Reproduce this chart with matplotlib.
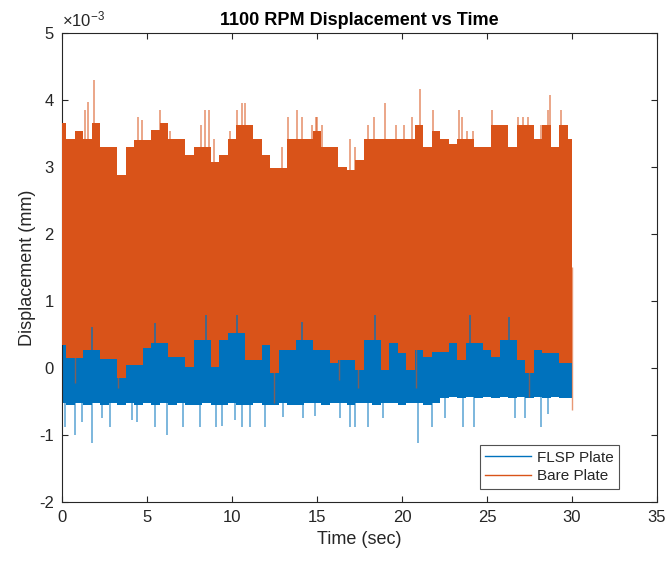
import numpy as np
import matplotlib
matplotlib.use("Agg")
import matplotlib.pyplot as plt
from matplotlib.lines import Line2D

plt.rcParams['font.family'] = ['Liberation Sans', 'DejaVu Sans']
plt.rcParams['mathtext.fontset'] = 'custom'
plt.rcParams['mathtext.rm'] = 'Liberation Sans'
plt.rcParams['mathtext.default'] = 'regular'

# ---- data (displacement in units of 1e-3 mm) ----
t_grid = np.linspace(0, 30, 61)

bare_hi = [3.65, 3.42, 3.53, 3.42, 3.65, 3.30, 3.30, 2.88, 3.30, 3.40,
           3.40, 3.55, 3.65, 3.42, 3.42, 3.18, 3.30, 3.30, 3.08, 3.18,
           3.42, 3.63, 3.63, 3.42, 3.18, 2.98, 2.98, 3.42, 3.42, 3.42,
           3.53, 3.30, 3.30, 3.00, 2.95, 3.10, 3.42, 3.42, 3.42, 3.42,
           3.42, 3.42, 3.63, 3.30, 3.53, 3.42, 3.35, 3.42, 3.42, 3.30,
           3.30, 3.63, 3.63, 3.30, 3.63, 3.63, 3.42, 3.63, 3.30, 3.63, 3.42]
bare_lo = [0.34, 0.15, 0.15, 0.27, 0.27, 0.14, 0.14, -0.15, 0.04, 0.04,
           0.30, 0.37, 0.37, 0.17, 0.17, 0.02, 0.42, 0.42, 0.02, 0.42,
           0.52, 0.52, 0.12, 0.12, 0.34, -0.07, 0.27, 0.27, 0.42, 0.42,
           0.27, 0.27, 0.07, 0.12, 0.12, -0.03, 0.42, 0.42, -0.03, 0.37,
           0.22, -0.03, 0.27, 0.17, 0.24, 0.24, 0.37, 0.12, 0.37, 0.37,
           0.27, 0.17, 0.42, 0.42, 0.12, -0.07, 0.27, 0.22, 0.22, 0.07, 0.07]
flsp_hi = [3.25, 3.20, 3.20, 3.20, 3.20, 3.10, 3.10, 2.80, 3.10, 3.20,
           3.20, 3.20, 3.20, 3.20, 3.20, 3.10, 3.10, 3.10, 3.00, 3.10,
           3.20, 3.20, 3.20, 3.20, 3.10, 2.90, 2.90, 3.20, 3.20, 3.20,
           3.20, 3.10, 3.10, 2.90, 2.90, 3.00, 3.20, 3.20, 3.20, 3.20,
           3.20, 3.20, 3.20, 3.10, 3.20, 3.20, 3.30, 3.20, 3.20, 3.10,
           3.10, 3.20, 3.20, 3.10, 3.20, 3.20, 3.20, 3.20, 3.10, 3.20, 3.37]
flsp_lo = [-0.52, -0.55, -0.52, -0.55, -0.52, -0.55, -0.52, -0.55, -0.52, -0.55,
           -0.52, -0.55, -0.52, -0.55, -0.52, -0.55, -0.55, -0.52, -0.55, -0.55,
           -0.52, -0.55, -0.55, -0.52, -0.55, -0.55, -0.52, -0.55, -0.55, -0.52,
           -0.52, -0.55, -0.52, -0.52, -0.55, -0.52, -0.52, -0.55, -0.52, -0.52,
           -0.55, -0.52, -0.52, -0.55, -0.52, -0.45, -0.43, -0.45, -0.43, -0.45,
           -0.43, -0.45, -0.43, -0.45, -0.43, -0.45, -0.43, -0.45, -0.43, -0.45, -0.45]

bare_up_t = [1.35, 1.55, 1.90, 4.49, 4.73, 5.76, 6.35, 8.18, 8.41, 8.65, 8.96,
             9.88, 10.31, 10.61, 10.76, 12.92, 13.31, 13.80, 14.14, 14.69, 14.92,
             14.98, 15.27, 16.94, 17.24, 17.98, 18.37, 19.00, 19.65, 20.14, 20.57,
             21.06, 21.84, 23.35, 23.55, 23.80, 24.20, 25.28, 26.84, 27.14, 27.43,
             28.20, 28.61, 28.71, 29.33]
bare_up_v = [3.85, 3.97, 4.30, 3.75, 3.70, 3.85, 3.53, 3.63, 3.85, 3.85, 3.42,
             3.53, 3.85, 3.95, 3.95, 3.30, 3.75, 3.85, 3.75, 3.63, 3.75,
             3.75, 3.63, 3.42, 3.30, 3.63, 3.75, 3.95, 3.63, 3.63, 3.75,
             4.17, 3.85, 3.85, 3.75, 3.53, 3.53, 3.85, 3.75, 3.75, 3.75,
             3.63, 3.85, 4.07, 3.85]
bare_dn_t = [0.76, 3.30, 12.50, 16.30, 17.40, 20.80, 27.50, 30.0]
bare_dn_v = [-0.22, -0.30, -0.52, -0.18, -0.30, -0.30, -0.43, -0.63]

flsp_dn_t = [0.18, 0.76, 1.16, 1.74, 2.33, 2.82, 4.10, 4.40, 5.47, 6.16, 7.14,
             8.12, 9.04, 9.39, 10.18, 10.57, 11.06, 11.94, 13.02, 14.20, 14.88,
             16.35, 16.94, 17.24, 17.98, 18.90, 20.96, 21.75,
             22.53, 23.60, 24.25, 26.65, 27.25, 28.20, 28.60]
flsp_dn_v = [-0.88, -1.00, -0.80, -1.12, -0.75, -0.88, -0.78, -0.80, -0.88, -1.00, -0.88,
             -0.88, -0.88, -0.86, -0.78, -0.88, -0.88, -0.88, -0.73, -0.75, -0.71,
             -0.75, -0.88, -0.88, -0.88, -0.75, -1.12, -0.88,
             -0.75, -0.88, -0.88, -0.75, -0.75, -0.88, -0.68]
flsp_pk_t = [1.74, 5.50, 8.50, 10.30, 14.10, 18.40, 24.00, 26.30]
flsp_pk_v = [0.61, 0.67, 0.79, 0.79, 0.69, 0.79, 0.79, 0.76]

series_names = ['FLSP Plate', 'Bare Plate']
x_ticks = [0, 5, 10, 15, 20, 25, 30, 35]
y_ticks = [-2, -1, 0, 1, 2, 3, 4, 5]

BLUE = '#0072BD'
ORANGE = '#D95319'
AX = '#262626'
s = 1e-3

fig = plt.figure(figsize=(6.68, 5.65), dpi=100)
ax = fig.add_axes([0.0928, 0.1115, 0.8907, 0.8301])

t = np.asarray(t_grid)
# FLSP Plate
ax.fill_between(t, np.asarray(flsp_lo) * s, np.asarray(flsp_hi) * s, step='mid',
                color=BLUE, lw=0, zorder=2)
ax.vlines(flsp_dn_t, np.asarray(flsp_dn_v) * s, 0.0, color=BLUE, lw=1.1,
          alpha=0.65, zorder=2)
# Bare Plate
ax.fill_between(t, np.asarray(bare_lo) * s, np.asarray(bare_hi) * s, step='mid',
                color=ORANGE, lw=0, zorder=3)
ax.vlines(bare_up_t, 2e-3, np.asarray(bare_up_v) * s, color=ORANGE, lw=1.1,
          alpha=0.65, zorder=3)
ax.vlines(bare_dn_t, np.asarray(bare_dn_v) * s, 1.5e-3, color=ORANGE, lw=1.0,
          alpha=0.6, zorder=3)
ax.vlines(flsp_pk_t, 0.0, np.asarray(flsp_pk_v) * s, color=BLUE, lw=1.2,
          alpha=0.8, zorder=4)

ax.set_xlim(0, 35)
ax.set_ylim(-2e-3, 5e-3)
ax.set_xticks(x_ticks)
ax.set_xticklabels([str(v) for v in x_ticks])
ax.set_yticks([v * s for v in y_ticks])
ax.set_yticklabels([str(v) for v in y_ticks])
ax.tick_params(direction='in', top=True, right=True, length=4, width=0.8,
               colors=AX, labelsize=12, pad=6)
for sp in ax.spines.values():
    sp.set_color(AX)
    sp.set_linewidth(0.8)

ax.text(0.0, 1.008, r'$\times10^{-3}$', transform=ax.transAxes, fontsize=12,
        color=AX, ha='left', va='bottom')
ax.set_title('1100 RPM Displacement vs Time', fontsize=13, fontweight='bold',
             color='black', pad=6)
ax.set_xlabel('Time (sec)', fontsize=13, color=AX, labelpad=4)
ax.set_ylabel('Displacement (mm)', fontsize=13, color=AX, labelpad=2)

handles = [Line2D([], [], color=BLUE, lw=1.0), Line2D([], [], color=ORANGE, lw=1.0)]
leg = ax.legend(handles, series_names, loc='lower right', bbox_to_anchor=(0.949, 0.012),
                fontsize=11, frameon=True, fancybox=False, handlelength=3.0,
                borderpad=0.35, labelspacing=0.3, handletextpad=0.4)
leg.get_frame().set_edgecolor(AX)
leg.get_frame().set_linewidth(0.8)
for txt in leg.get_texts():
    txt.set_color(AX)

fig.savefig('out.png', dpi=100)
